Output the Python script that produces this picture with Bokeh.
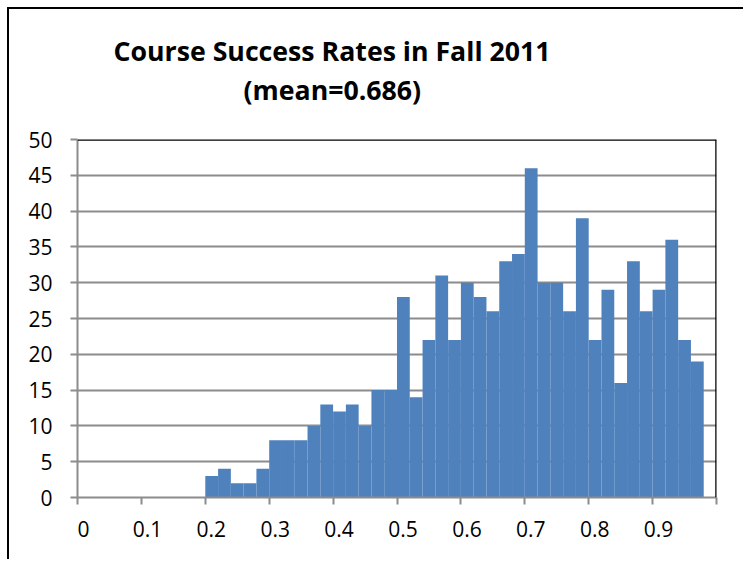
from bokeh.plotting import figure
from bokeh.models import Range1d, FixedTicker, Span, Title, LinearAxis
from bokeh.embed import file_html
from bokeh.resources import INLINE

# Histogram data (bin width 0.02)
bin_left = [0.20, 0.22, 0.24, 0.26, 0.28, 0.30, 0.32, 0.34, 0.36, 0.38,
            0.40, 0.42, 0.44, 0.46, 0.48, 0.50, 0.52, 0.54, 0.56, 0.58,
            0.60, 0.62, 0.64, 0.66, 0.68, 0.70, 0.72, 0.74, 0.76, 0.78,
            0.80, 0.82, 0.84, 0.86, 0.88, 0.90, 0.92, 0.94, 0.96]
counts = [3, 4, 2, 2, 4, 8, 8, 8, 10, 13,
          12, 13, 10, 15, 15, 28, 14, 22, 31, 22,
          30, 28, 26, 33, 34, 46, 30, 30, 26, 39,
          22, 29, 16, 33, 26, 29, 36, 22, 19]
bin_width = 0.02
x_ticks = [0, 0.1, 0.2, 0.3, 0.4, 0.5, 0.6, 0.7, 0.8, 0.9, 1.0]
x_labels = [0, 0.1, 0.2, 0.3, 0.4, 0.5, 0.6, 0.7, 0.8, 0.9]
y_ticks = [0, 5, 10, 15, 20, 25, 30, 35, 40, 45, 50]
title_line1 = "Course Success Rates in Fall 2011"
title_line2 = "(mean=0.686)"

FONT = "Open Sans"
GRID = "#8c8c8c"
TSIZE = "26.7px"
LABEL_SHIFT = 6 / 639  # Excel draws the x labels slightly right of the ticks

p = figure(width=736, height=552, output_backend="svg", toolbar_location=None,
           x_range=Range1d(0, 1.0), y_range=Range1d(0, 50),
           min_border_left=68, min_border_right=29, min_border_top=130,
           min_border_bottom=64)
p.extra_x_ranges = {"lab": Range1d(-LABEL_SHIFT, 1.0 - LABEL_SHIFT)}
p.styles = {"margin-left": "7px", "margin-top": "7px",
            "border-left": "2px solid black", "border-top": "2px solid black"}
p.outline_line_color = None
p.background_fill_color = "white"
p.border_fill_color = "white"

right = [b + bin_width for b in bin_left]
p.quad(left=bin_left, right=right, bottom=0, top=counts,
       fill_color="#4F81BD", line_color=None)

p.xgrid.visible = False
p.ygrid.grid_line_color = GRID
p.ygrid.grid_line_width = 2
p.ygrid.ticker = FixedTicker(ticks=y_ticks)

for ax in (p.xaxis[0], p.yaxis[0]):
    ax.axis_line_color = GRID
    ax.axis_line_width = 2
    ax.major_tick_line_color = GRID
    ax.major_tick_line_width = 2
    ax.major_tick_in = 0
    ax.major_tick_out = 7
    ax.minor_tick_line_color = None
    ax.major_label_text_font = FONT
    ax.major_label_text_font_size = "21px"
    ax.major_label_text_color = "black"

# x axis: ticks only (labels not drawn)
p.xaxis[0].ticker = FixedTicker(ticks=x_ticks)
p.xaxis[0].major_label_text_color = None
p.xaxis[0].major_label_standoff = 0

# x labels, on a second axis
lab_axis = LinearAxis(x_range_name="lab", ticker=FixedTicker(ticks=x_labels),
                      axis_line_color=None, major_tick_line_color=None,
                      minor_tick_line_color=None, major_tick_in=0, major_tick_out=0,
                      major_label_standoff=16, major_label_text_font=FONT,
                      major_label_text_font_size="21px", major_label_text_color="black")
p.add_layout(lab_axis, "below")

p.yaxis.ticker = FixedTicker(ticks=y_ticks)
p.yaxis.major_label_standoff = 18

p.add_layout(Span(location=50, dimension="width", line_color="black", line_width=2.5))
p.add_layout(Span(location=1.0, dimension="height", line_color="black", line_width=2.5))

# spacer between frame and second title line
p.add_layout(Title(text=" ", align="left", standoff=16, text_font=FONT,
                   text_font_size="10px", text_color="white"), "above")
p.add_layout(Title(text=title_line2, align="left", offset=166, standoff=0,
                   text_font=FONT, text_font_style="bold", text_font_size=TSIZE,
                   text_color="black"), "above")
p.add_layout(Title(text=title_line1, align="left", offset=36, standoff=0,
                   text_font=FONT, text_font_style="bold", text_font_size=TSIZE,
                   text_color="black"), "above")

open("out.html", "w").write(file_html(p, INLINE))
